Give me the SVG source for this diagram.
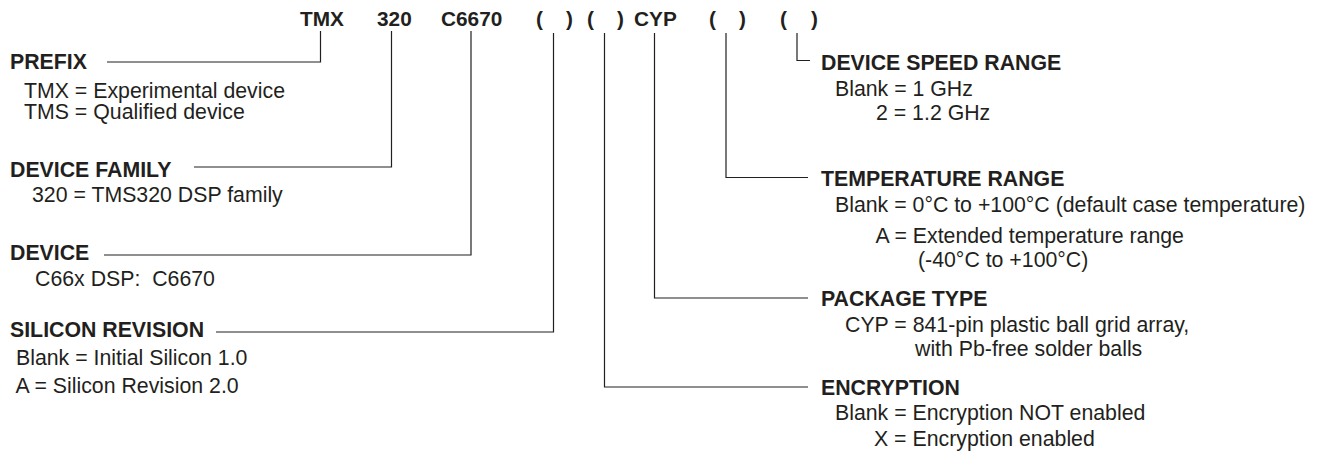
<svg xmlns="http://www.w3.org/2000/svg" width="1319" height="453" viewBox="0 0 1319 453">
<style>
text{font-family:"Liberation Sans",Arial,sans-serif;font-size:21.3px;fill:#231f20;white-space:pre}
.b{font-weight:bold}
.h{font-weight:bold;font-size:20.8px}
.c{fill:none;stroke:#231f20;stroke-width:1.2}
</style>
<rect width="1319" height="453" fill="#fff"/>
<g id="connectors">
<path class="c" d="M107 62H320.5V31"/>
<path class="c" d="M194 167H391.5V31"/>
<path class="c" d="M104 255H471V31"/>
<path class="c" d="M216 332H553.5V33"/>
<path class="c" d="M808 387H604.5V33"/>
<path class="c" d="M808 298H654.5V33"/>
<path class="c" d="M808 177.5H726V33"/>
<path class="c" d="M810 60.5H797V33"/>
</g>
<g id="part-number">
<text class="h" x="300" y="26">TMX</text>
<text class="h" x="377" y="26">320</text>
<text class="h" x="441" y="26">C6670</text>
<text class="h" x="536" y="26">(</text>
<text class="h" x="566" y="26">)</text>
<text class="h" x="587" y="26">(</text>
<text class="h" x="617" y="26">)</text>
<text class="h" x="634" y="26">CYP</text>
<text class="h" x="709" y="26">(</text>
<text class="h" x="739" y="26">)</text>
<text class="h" x="780" y="26">(</text>
<text class="h" x="811" y="26">)</text>
</g>
<g id="prefix">
<text class="b" x="10" y="69">PREFIX</text>
<text x="24" y="98">TMX = Experimental device</text>
<text x="24" y="119">TMS = Qualified device</text>
</g>
<g id="device-family">
<text class="b" x="10" y="177">DEVICE FAMILY</text>
<text x="32" y="202">320 = TMS320 DSP family</text>
</g>
<g id="device">
<text class="b" x="10" y="260">DEVICE</text>
<text x="35" y="286">C66x DSP:  C6670</text>
</g>
<g id="silicon-revision">
<text class="b" x="10" y="337">SILICON REVISION</text>
<text x="16" y="365">Blank = Initial Silicon 1.0</text>
<text x="15.5" y="393">A = Silicon Revision 2.0</text>
</g>
<g id="device-speed-range">
<text class="b" x="821" y="70">DEVICE SPEED RANGE</text>
<text x="835" y="96">Blank = 1 GHz</text>
<text x="876" y="120">2 = 1.2 GHz</text>
</g>
<g id="temperature-range">
<text class="b" x="821" y="186">TEMPERATURE RANGE</text>
<text x="835" y="212">Blank = 0°C to +100°C (default case temperature)</text>
<text x="875.5" y="243">A = Extended temperature range</text>
<text x="918" y="267">(-40°C to +100°C)</text>
</g>
<g id="package-type">
<text class="b" x="821" y="306">PACKAGE TYPE</text>
<text x="845" y="332">CYP = 841-pin plastic ball grid array,</text>
<text x="915" y="356">with Pb-free solder balls</text>
</g>
<g id="encryption">
<text class="b" x="821" y="395">ENCRYPTION</text>
<text x="835" y="420">Blank = Encryption NOT enabled</text>
<text x="874" y="446">X = Encryption enabled</text>
</g>
</svg>
